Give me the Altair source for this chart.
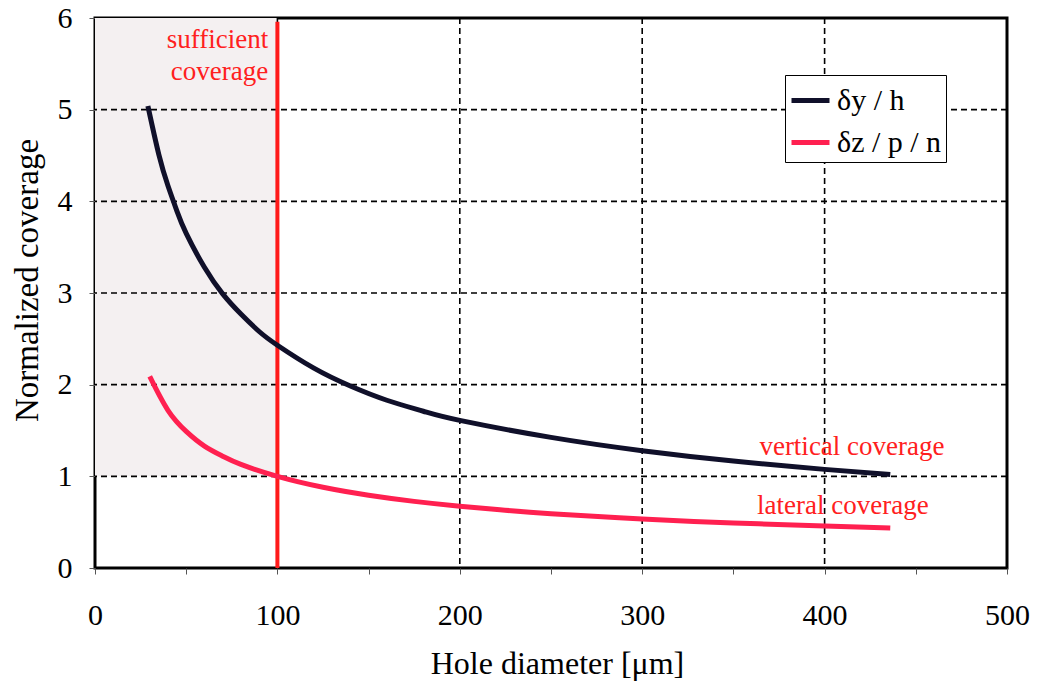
import altair as alt
import pandas as pd

# Data
x_vertical = [29, 35, 40, 45, 50, 60, 70, 80, 90, 100, 120, 140, 160, 180, 200, 250, 300, 350, 400, 436]
vertical = [5.04, 4.51, 4.17, 3.89, 3.65, 3.28, 2.99, 2.77, 2.58, 2.43, 2.18, 1.985, 1.83, 1.71, 1.61, 1.425, 1.28, 1.167, 1.076, 1.02]
x_lateral = [30, 40, 50, 60, 70, 80, 100, 125, 150, 175, 200, 222, 250, 300, 350, 400, 436]
lateral = [2.09, 1.72, 1.49, 1.33, 1.22, 1.13, 1.00, 0.881, 0.794, 0.727, 0.674, 0.635, 0.593, 0.535, 0.491, 0.459, 0.437]
series_names = ["δy / h", "δz / p / n"]
series_colors = ["#10102a", "#ff2050"]

x_grid = [100, 200, 300, 400]
y_grid = [1, 2, 3, 4, 5]
x_ticks = [0, 50, 100, 150, 200, 250, 300, 350, 400, 450, 500]
y_ticks = [0, 1, 2, 3, 4, 5, 6]

FONT = "Liberation Serif"

curves = pd.DataFrame(
    [{"x": x, "y": v, "s": series_names[0]} for x, v in zip(x_vertical, vertical)]
    + [{"x": x, "y": v, "s": series_names[1]} for x, v in zip(x_lateral, lateral)]
)

xs = alt.Scale(domain=[0, 500], nice=False)
ys = alt.Scale(domain=[0, 6], nice=False)

xaxis = alt.Axis(values=x_ticks, labelExpr="datum.value % 100 == 0 ? datum.label : ''",
                 format="d", grid=False, domain=False, tickColor="#555", tickSize=6,
                 tickWidth=1, labelFont=FONT, labelFontSize=30, labelColor="black",
                 labelPadding=26, labelFlush=False, labelOverlap=False,
                 title="Hole diameter [μm]", titleFont=FONT, titleFontSize=32,
                 titleFontWeight="normal", titleColor="black", titlePadding=18,
                 titleX=462)
yaxis = alt.Axis(values=y_ticks, format="d", grid=False, domain=False, tickColor="#555",
                 tickSize=6, tickWidth=1, labelFont=FONT, labelFontSize=30,
                 labelColor="black", labelPadding=17, labelFlush=False,
                 title="Normalized coverage", titleFont=FONT, titleFontSize=33,
                 titleFontWeight="normal", titleColor="black", titlePadding=13,
                 titleY=262)

shade = alt.Chart(pd.DataFrame({"x": [0], "x2": [100], "y": [1], "y2": [6]})).mark_rect(
    color="#f4f0f1"
).encode(
    x=alt.X("x:Q", scale=xs, axis=xaxis), x2="x2:Q",
    y=alt.Y("y:Q", scale=ys, axis=yaxis), y2="y2:Q",
)

vgrid = alt.Chart(pd.DataFrame({"x": x_grid})).mark_rule(
    color="black", strokeDash=[6, 4], strokeWidth=1.6
).encode(x=alt.X("x:Q", scale=xs))

hgrid = alt.Chart(pd.DataFrame({"y": y_grid})).mark_rule(
    color="black", strokeDash=[6, 4], strokeWidth=1.6
).encode(y=alt.Y("y:Q", scale=ys))

lines = alt.Chart(curves).mark_line(strokeWidth=5, strokeCap="butt",
                                    interpolate="natural").encode(
    x=alt.X("x:Q", scale=xs),
    y=alt.Y("y:Q", scale=ys),
    color=alt.Color("s:N", scale=alt.Scale(domain=series_names, range=series_colors),
                    legend=alt.Legend(title=None, orient="none", legendX=690, legendY=57,
                                      symbolType="stroke", symbolSize=1444,
                                      symbolStrokeWidth=5, labelFont=FONT,
                                      labelFontSize=30, labelColor="black",
                                      strokeColor="black",
                                      fillColor="white",
                                      padding=4, rowPadding=5, labelOffset=5,
                                      labelLimit=300)),
    order="x:Q",
)

vline = alt.Chart(pd.DataFrame({"x": [100], "y": [0], "y2": [5.96]})).mark_rule(
    color="#ff1a1a", strokeWidth=4
).encode(x=alt.X("x:Q", scale=xs), y=alt.Y("y:Q", scale=ys), y2="y2:Q")

labels = pd.DataFrame({
    "x": [95, 95],
    "y": [5.76, 5.41],
    "t": ["sufficient", "coverage"],
})
suff = alt.Chart(labels).mark_text(align="right", baseline="middle", font=FONT,
                                   fontSize=27, color="#ff2020").encode(
    x=alt.X("x:Q", scale=xs), y=alt.Y("y:Q", scale=ys), text="t:N")

labels2 = pd.DataFrame({
    "x": [415, 410],
    "y": [1.32, 0.68],
    "t": ["vertical coverage", "lateral coverage"],
})
cov = alt.Chart(labels2).mark_text(align="center", baseline="middle", font=FONT,
                                   fontSize=27, color="#ff2020").encode(
    x=alt.X("x:Q", scale=xs), y=alt.Y("y:Q", scale=ys), text="t:N")

chart = alt.layer(shade, vgrid, hgrid, vline, lines, suff, cov).properties(
    width=912, height=550,
    autosize=alt.AutoSizeParams(type="none"),
    padding={"left": 95, "top": 18, "right": 33, "bottom": 119},
    background="white",
).configure_view(stroke="black", strokeWidth=3)

chart.save("out.html", embed_options={"renderer": "svg", "actions": False})
